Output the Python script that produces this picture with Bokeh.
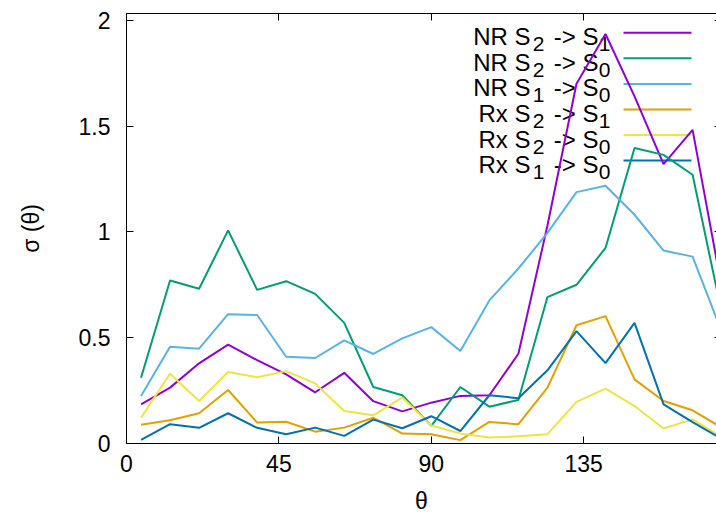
from bokeh.plotting import figure
from bokeh.models import Range1d, LinearAxis, FixedTicker, Label, Arrow
from bokeh.embed import file_html
from bokeh.resources import INLINE

# ---------------- data ----------------
theta = [4.29, 12.86, 21.43, 30.0, 38.57, 47.14, 55.71, 64.29, 72.86, 81.43, 90.0,
         98.57, 107.14, 115.71, 124.29, 132.86, 141.43, 150.0, 158.57, 167.14, 175.71]

nr_s2_s1 = [0.185, 0.264, 0.379, 0.467, 0.394, 0.327, 0.242, 0.334, 0.200, 0.152, 0.193,
            0.225, 0.228, 0.424, 1.030, 1.700, 1.935, 1.640, 1.320, 1.482, 0.740]
nr_s2_s0 = [0.311, 0.770, 0.731, 1.007, 0.726, 0.767, 0.707, 0.570, 0.267, 0.228, 0.083,
            0.267, 0.174, 0.206, 0.692, 0.750, 0.924, 1.396, 1.364, 1.270, 0.620]
nr_s1_s0 = [0.224, 0.457, 0.448, 0.611, 0.607, 0.410, 0.404, 0.487, 0.423, 0.497, 0.550,
            0.437, 0.676, 0.827, 0.995, 1.188, 1.218, 1.081, 0.912, 0.883, 0.530]
rx_s2_s1 = [0.089, 0.110, 0.143, 0.253, 0.099, 0.103, 0.056, 0.075, 0.122, 0.047, 0.044,
            0.016, 0.102, 0.091, 0.264, 0.559, 0.602, 0.303, 0.201, 0.157, 0.075]
rx_s2_s0 = [0.122, 0.330, 0.201, 0.338, 0.313, 0.342, 0.284, 0.154, 0.133, 0.217, 0.085,
            0.047, 0.028, 0.034, 0.044, 0.197, 0.259, 0.177, 0.071, 0.114, 0.030]
rx_s1_s0 = [0.017, 0.091, 0.074, 0.143, 0.074, 0.044, 0.075, 0.036, 0.113, 0.072, 0.129,
            0.059, 0.228, 0.214, 0.346, 0.531, 0.380, 0.570, 0.185, 0.101, 0.022]

# legend pieces: (prefix, first subscript, second subscript)
label_prefix = ["NR", "NR", "NR", "Rx", "Rx", "Rx"]
label_sub_a = ["2", "2", "1", "2", "2", "1"]
label_sub_b = ["1", "0", "0", "1", "0", "0"]
series = [nr_s2_s1, nr_s2_s0, nr_s1_s0, rx_s2_s1, rx_s2_s0, rx_s1_s0]
colors = ["#9400d3", "#009e73", "#56b4e9", "#e69f00", "#f0e442", "#0072b2"]

x_ticks = [0, 45, 90, 135, 180]
y_ticks = [0, 0.5, 1, 1.5, 2]
y_tick_labels = ["0", "0.5", "1", "1.5", "2"]
x_label = "θ"
y_label = "σ (θ)"

# ---------------- figure ----------------
FONT = "Liberation Sans"
FS = "23px"
LEFT, BOTTOM_PAD, TOP = 126, 73, 13
W, H = 716, 516

p = figure(width=W, height=H, output_backend="svg", toolbar_location=None,
           x_range=Range1d(0, 174.2), y_range=Range1d(0, 2.032),
           min_border_left=LEFT, min_border_right=0, min_border_top=TOP,
           min_border_bottom=BOTTOM_PAD, x_axis_label=x_label, y_axis_label=y_label)
p.grid.visible = False
p.outline_line_color = None
p.background_fill_color = "white"
p.border_fill_color = "white"

for ax in (p.xaxis[0], p.yaxis[0]):
    ax.major_tick_in = 7
    ax.major_tick_out = 0
    ax.minor_tick_in = 0
    ax.minor_tick_out = 0
    ax.axis_line_color = "black"
    ax.major_tick_line_color = "black"
    ax.major_label_text_font = FONT
    ax.major_label_text_font_size = FS
    ax.major_label_text_color = "black"
    ax.axis_label_text_font = FONT
    ax.axis_label_text_font_size = FS
    ax.axis_label_text_font_style = "normal"
    ax.axis_label_text_color = "black"

p.xaxis[0].ticker = FixedTicker(ticks=x_ticks)
p.yaxis[0].ticker = FixedTicker(ticks=y_ticks)
p.yaxis[0].major_label_overrides = {t: s for t, s in zip(y_ticks, y_tick_labels)}
p.xaxis[0].major_label_standoff = 11
p.xaxis[0].axis_label_standoff = 13
p.yaxis[0].major_label_standoff = 16
p.yaxis[0].axis_label_standoff = 32

# mirrored ticks on top (with border line) and right
top_axis = LinearAxis(ticker=FixedTicker(ticks=x_ticks), major_tick_in=7, major_tick_out=0,
                      minor_tick_in=0, minor_tick_out=0, axis_line_color="black",
                      major_label_overrides={t: "" for t in x_ticks},
                      major_label_text_font_size="1px", major_label_standoff=0)
p.add_layout(top_axis, "above")
right_axis = LinearAxis(ticker=FixedTicker(ticks=y_ticks), major_tick_in=2, major_tick_out=0,
                        minor_tick_in=0, minor_tick_out=0, axis_line_color=None,
                        major_label_overrides={t: "" for t in y_ticks},
                        major_label_text_font_size="1px", major_label_standoff=0)
p.add_layout(right_axis, "right")

# ---------------- key (text left of sample, gnuplot style) ----------------
frame_bottom = H - BOTTOM_PAD
for r in range(len(series)):
    line_y = 32.3 + 25.55 * r
    sy = frame_bottom - line_y
    p.add_layout(Arrow(end=None, x_start=623 - LEFT, y_start=sy, x_end=691 - LEFT, y_end=sy,
                       start_units="screen", end_units="screen",
                       line_color=colors[r], line_width=2, level="underlay"))
    base = sy - 4.0
    sub = base - 7.5
    common = dict(x_units="screen", y_units="screen", text_font=FONT,
                  text_baseline="alphabetic", text_color="black", level="underlay")
    p.add_layout(Label(x=530 - LEFT, y=base, text=f"{label_prefix[r]} S", text_align="right",
                       text_font_size="24px", **common))
    p.add_layout(Label(x=538 - LEFT, y=sub, text=label_sub_a[r], text_align="center",
                       text_font_size="21px", **common))
    p.add_layout(Label(x=598 - LEFT, y=base, text="-> S", text_align="right",
                       text_font_size="24px", **common))
    p.add_layout(Label(x=604 - LEFT, y=sub, text=label_sub_b[r], text_align="center",
                       text_font_size="21px", **common))

for ys, c in zip(series, colors):
    p.line(theta, ys, line_color=c, line_width=2)

open("out.html", "w").write(file_html(p, INLINE))
